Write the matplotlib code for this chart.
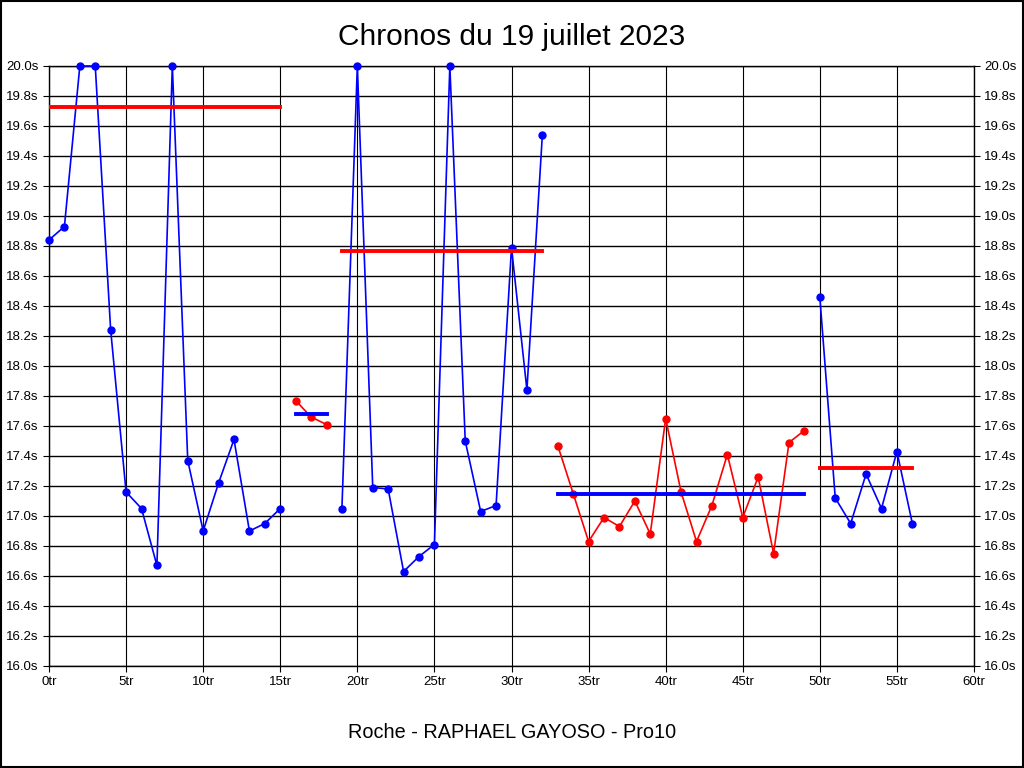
import matplotlib.pyplot as plt
from matplotlib.patches import Rectangle

plt.rcParams['font.family'] = ['Liberation Sans', 'DejaVu Sans']

# tours et chronos par serie
tours_1 = list(range(0, 16))
chronos_1 = [18.84, 18.93, 20.0, 20.0, 18.24, 17.16, 17.05, 16.67, 20.0, 17.37,
             16.90, 17.22, 17.51, 16.90, 16.95, 17.05]
tours_2 = [16, 17, 18]
chronos_2 = [17.77, 17.66, 17.61]
tours_3 = list(range(19, 33))
chronos_3 = [17.05, 20.0, 17.19, 17.18, 16.63, 16.73, 16.81, 20.0, 17.50, 17.03,
             17.07, 18.79, 17.84, 19.54]
tours_4 = list(range(33, 50))
chronos_4 = [17.47, 17.15, 16.83, 16.99, 16.93, 17.10, 16.88, 17.65, 17.16, 16.83,
             17.07, 17.41, 16.99, 17.26, 16.75, 17.49, 17.57]
tours_5 = list(range(50, 57))
chronos_5 = [18.46, 17.12, 16.95, 17.28, 17.05, 17.43, 16.95]

# moyennes par serie
moyennes = [19.73, 17.68, 18.77, 17.15, 17.32]

series = [(tours_1, chronos_1, 'blue'), (tours_2, chronos_2, 'red'),
          (tours_3, chronos_3, 'blue'), (tours_4, chronos_4, 'red'),
          (tours_5, chronos_5, 'blue')]

fig = plt.figure(figsize=(10.24, 7.68), dpi=100)
ax = fig.add_axes([49 / 1024, 1 - 666 / 768, 925 / 1024, 600 / 768])

for (t, c, col), moy in zip(series, moyennes):
    ax.plot(t, c, color=col, lw=1.2, marker='o', ms=5, zorder=3, clip_on=False)
    col_moy = 'red' if col == 'blue' else 'blue'
    ax.plot([t[0], t[-1]], [moy, moy], color=col_moy, lw=2.8, zorder=4)

ax.set_xlim(0, 60)
ax.set_ylim(16.0, 20.0)
xt = list(range(0, 61, 5))
yt = [16.0 + 0.2 * i for i in range(21)]
ax.set_xticks(xt)
ax.set_xticklabels([f'{v}tr' for v in xt])
ax.set_yticks(yt)
ax.set_yticklabels([f'{v:.1f}s' for v in yt])
ax.tick_params(axis='both', labelsize=9.5, length=4, color='black')
ax.tick_params(axis='y', right=True, labelright=True)
ax.grid(True, axis='x', color='black', lw=0.8)
ax.grid(True, axis='y', color='black', lw=1.0)
for s in ax.spines.values():
    s.set_color('black')
    s.set_linewidth(1.0)

fig.text(0.5, 1 - 37 / 768, 'Chronos du 19 juillet 2023', ha='center', va='center', fontsize=21.5)
fig.text(0.5, 1 - 733 / 768, 'Roche - RAPHAEL GAYOSO - Pro10', ha='center', va='center', fontsize=14.3)

fig.patches.append(Rectangle((0.0005, 0.0007), 0.999, 0.9986, transform=fig.transFigure,
                             fill=False, edgecolor='black', lw=1.5))

fig.savefig('out.png', dpi=100)
